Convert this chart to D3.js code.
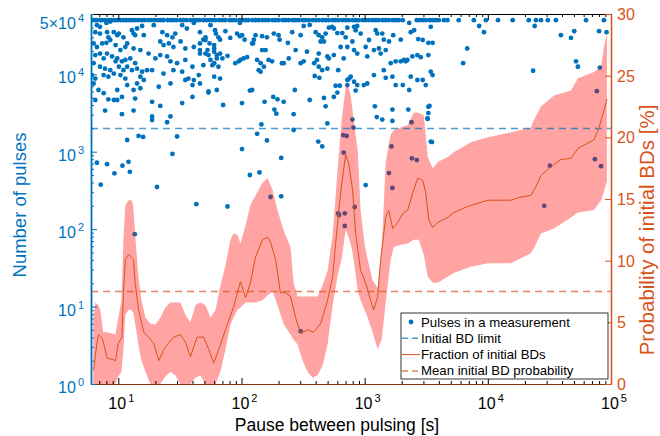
<!DOCTYPE html>
<html lang="en">
<head>
<meta charset="UTF-8">
<title>Pulses vs pause between pulsing</title>
<script src="https://cdn.jsdelivr.net/npm/d3@7"></script>
<style>
    body { margin: 0; background: #fff; font-family: "Liberation Sans", Arial, Helvetica, sans-serif; }
    .tick-lbl { font-size: 16px; }
</style>
</head>
<body>
<svg id="chart" width="660" height="436"></svg>
<script>
// measurements that hit the pulse cap (all drawn at 5x10^4)
var pulseCap = 5e4;
var cappedPause = [6.1,6.4,6.7,7.1,7.4,7.8,8.3,8.8,9.3,9.8,10.4,11.0,11.6,12.3,13.0,13.7,14.5,15.4,16.3,17.5,
    18.5,19.6,20.8,21.9,23.2,25.1,26.5,28.0,29.6,31.9,33.8,35.7,38.5,40.7,43.2,45.6,49.1,52,55,58,61.5,66,70,74,
    80,84,89,96,102,108,114,123,130,138,148,157,166,179,189,200,216,228,242,261,275,292,313,331,351,378,400,424,
    456,482,510,550,581,616,663,701,742,800,845,894,963,1019,1080,1160,1229,1300,1400,1482,1570,1690,1787,1890,
    2040,2650,2800,2970,3134,3380,3570,3780,4000,4400,4700,5800,7700,9640,12100,15900,21500,24600,27000,30700,
    35700,62700,87700];

// other measurements: [pause (s), pulses]
var pulsePoints = [
    [6.7,43000],[7.1,41000],[8.0,46000],[8.6,48000],[14.2,39000],[15.6,42000],[19.4,43000],[22.8,35000],[24.9,32000],
    [27.5,30000],[29,33500],[33,43000],[36,39000],[41,46000],[46,35000],[51,30000],[56,43000],[61,37000],
    [6.5,35000],[7.1,33500],[8.1,35000],[8.3,30000],[9.2,35000],[9.8,32000],[10.1,33500],[11.0,30000],[12.9,37000],
    [13.3,33500],[13.7,32000],[16.1,32000],[21.9,26500],[23.3,23800],[25.7,25000],[28,22500],[32,26500],[35,21500],
    [41,22500],[46,25000],[51,27700],[60,23800],
    [6.3,25000],[6.7,22500],[7.4,25000],[8.0,25500],[8.6,27700],[9.5,23800],[10.4,20500],[11.4,22500],[11.8,25000],
    [13.3,21500],[15.1,20500],[17.6,18500],[20,16000],[21.9,17700],[24.9,17000],[26.5,14700],[30,13900],[35,15300],
    [40,12500],[46,18500],[53,20500],[60,21500],[63,17700],
    [6.5,17700],[7.1,18500],[7.6,16000],[8.1,18500],[8.9,17000],[9.8,16000],[10.7,14700],[11.4,15300],[12.5,16000],
    [13.7,13900],[14.2,11800],[15.6,10800],[17.1,11300],[18.8,11300],[23.3,10200],[28,11300],[33,10800],[37,8800],
    [41,8400],[45,9750],[49,13100],[60,13900],[65,12500],
    [6.3,13900],[7.1,12500],[7.8,11800],[8.6,11300],[9.5,14700],[10.1,12500],[11.0,11300],[11.8,12500],[12.9,11300],
    [15.1,9300],[16.1,8430],
    [6.1,9750],[6.5,8800],[7.6,9750],[8.3,9300],[9.2,10200],[10.4,9750],[11.4,8800],[14.2,7600],[21.3,6900],
    [26.5,7600],[35,8430],[40,7260],[46,7600],[54,6000],[60,9300],
    [6.3,7600],[6.9,6260],[7.6,5700],[9.8,6260],[11.8,7260],[13.3,6260],[15.1,6600],
    [6.5,4650],[8.3,4750],[9.2,4650],[9.8,4650],[10.7,5100],[13.7,4850],[18.8,4400],[21.9,3900],[33,4250],[40,5100],
    [7.8,3400],[10.7,3050],[13.3,3400],[18.8,2850],[18.8,2565],[24.9,2400],[26.5,2850],
    [11.8,1415],[14.6,1600],[15.9,1550],[30,1570],
    [6.7,720],[8.1,690],[7.2,375],[9.3,525],[10.8,660],[12.1,740],[12.4,550],[20.6,350],[27.5,935],[43,210],[13.6,86],
    [49,28000],[55,25000],[62,33500],[65,30000],[67,28000],[74,36000],[81,29500],[92,33500],[97,31000],[101,32000],
    [106,28000],[97,46000],[126,28000],[124,25000],[130,32000],[147,31000],[161,30000],[183,33500],[200,32000],
    [204,28000],[238,25500],[258,35000],[302,32000],[320,42000],[358,43300],[400,35000],[424,32000],[452,30000],
    [482,33500],[512,40000],[545,41000],[562,39000],[600,34000],[658,34000],[701,30000],[723,40000],[820,41000],
    [845,37000],[870,42000],[928,33500],[1019,22500],[1084,27700],[1229,37000],[1265,33500],[1390,33500],
    [1430,28000],[1575,26500],[1705,32000],[1963,28000],[2300,46000],[2367,35000],[2520,37000],[2720,28500],
    [2960,27700],[3442,41000],[3290,25500],[3560,25500],
    [46,20500],[51,18500],[54,17700],[60,19600],[67,18500],[77,17300],[89,13900],[95,14700],[104,16000],[111,16600],
    [122,25000],[134,15300],[147,20500],[157,20500],[166,15300],[177,14700],[213,13900],[242,16000],[275,20500],
    [302,13900],[320,14700],[340,19600],[389,13900],[424,18500],[439,26500],[467,26500],[498,17000],[512,16000],
    [562,17700],[638,22500],[676,16000],[723,22500],[795,26500],[820,20500],[870,18500],[1050,17000],[1190,20500],
    [1305,21500],[1349,18500],[1482,20500],[1627,13900],[1787,14700],[1963,14700],[2085,15300],[2225,15300],
    [2440,17000],[2680,17700],[2854,16600],[3290,17700],
    [56,15300],[58,13100],[63,16000],[70,16000],[98,15300],[143,13900],[138,11300],[143,10800],[152,12500],
    [220,13900],[410,15300],[424,12500],[452,11300],[498,11800],[610,11300],[723,8430],[748,8800],[770,9300],
    [820,8000],[870,7260],[985,7260],[1050,7600],[1190,9750],[1430,11300],[1482,9000],[1680,9300],[1787,7260],
    [2040,7260],[2155,14700],[2300,6260],[2367,9300],[2680,8430],[2960,8430],[3134,7260],[3442,10800],[3560,9750],
    [67,8800],[54,5800],[63,6260],[117,6150],[122,6260],[154,4400],[181,5100],[196,4750],[220,4400],[271,6260],
    [358,4650],[393,9500],[429,9000],[467,4950],[482,3850],[562,5100],[600,5800],[581,7100],[628,7100],[723,7260],
    [845,6150],[1210,3850],[1255,2800],[1390,2600],[1680,3500],[1680,2500],[2260,3500],[2400,2400],[3250,2650],
    [3290,3150],[3360,3900],
    [71,4010],[101,4250],[185,3500],[192,3100],[265,3050],[145,2250],[134,1700],[161,1400],[265,1905],[420,1350],
    [452,1170],[498,2320],[670,1640],[715,1600],[795,2600],[810,2050],[1650,1170],[3442,1350],[101,1080],
    [210,830],[117,500],[140,540],[77,196],[172,260],[210,265],[676,975],[1019,371],[610,160],[620,152],[690,160],
    [690,110],[830,193],[1575,530],[1680,340],[2420,820],[2650,780],[302,4.8],
    [3290,3800],[3230,2700],[3520,1330],[31900,660],[28700,200],[74000,800],[83000,650],
    [8500,42000],[9300,35000],[6800,21500],[6300,13900],[23300,11100],[24000,42000],[39200,32000],[47300,29500],
    [50300,36000],[52000,14700],[53900,12500],[80000,36000],[92000,35000],[76700,6050],[81200,12200]
];

// fraction of initial BDs (%)
var fracPause = [6.3,6.7,6.9,7.4,7.6,8.1,8.9,9.5,10.0,10.7,11.0,11.4,12.1,13.3,13.7,14.6,16.1,17.6,19.4,21.3,23.4,
    25.6,28.2,31.9,35.1,38.5,43.6,49.3,54.2,59.5,67.5,76.5,86,98,108,118,130,148,163,172,189,207,228,250,275,302,
    344,385,439,500,550,581,638,701,741,799,845,927,1018,1119,1183,1276,1349,1482,1568,1690,1854,2075,2239,2456,
    2698,2963,3134,3315,3572,3920,4729,5295,6876,10000,15380,17540,22370,24550,26970,30760,34430,39200,47300,
    53950,72800,80000,87700,92700];
var fracPct = [1.1,3.3,4.0,3.7,3.3,2.1,2.0,1.9,3.3,3.8,7.4,10.1,10.5,10.1,8.2,6.0,4.2,3.8,3.3,1.9,2.8,3.3,3.8,4.0,
    3.4,2.2,3.8,3.8,2.8,1.7,3.2,4.8,6.2,8.3,7.0,8.2,10.3,11.7,11.9,11.5,10.1,7.4,7.4,7.1,5.4,4.1,4.4,4.2,4.9,6.8,
    8.7,11.4,15.5,18.6,17.9,15.7,12.2,9.2,8.2,6.8,6.0,7.1,10.1,13.5,14.1,12.6,13.1,13.9,14.1,15.5,16.7,16.5,15.5,
    13.3,12.7,13.1,13.5,13.9,14.4,14.9,14.9,15.1,15.3,16.0,16.9,17.4,17.8,18.2,18.3,19.1,19.8,20.8,22.2,23.1];

// confidence band around the fraction (%)
var bandPause = [6.26,6.5,6.88,7.14,7.55,8.14,8.94,9.46,10,10.6,11.0,11.4,12.1,12.8,13.2,13.75,14.55,15.4,16.6,18.2,
    20.0,21.9,24.1,26.5,29.0,31.9,35.1,38.5,42.3,46.4,50.9,56.0,61.5,67.5,74.1,81.4,86.1,92.7,98.1,108,118,130,148,
    163,179,196,219,250,265,285,313,344,378,415,456,500,550,603,650,701,728,770,814,877,927,1000,1058,1161,1276,
    1374,1482,1570,1627,1722,1963,2239,2503,2748,3017,3255,3572,3920,4729,5295,7278,10000,15380,22370,23660,
    26980,34430,47300,53950,72800,83000,87700,92700];
var bandHi = [5.2,6.6,6.4,6.0,4.2,4.2,4.1,4.0,5.4,6.8,11.7,14.5,14.9,14.9,14.5,11.9,8.7,6.8,5.4,4.9,4.8,5.4,6.2,6.6,
    6.6,6.6,5.6,5.0,6.4,6.6,6.4,5.4,6.0,8.0,9.6,11.7,12.2,12.1,11.4,12.9,14.5,15.3,16.3,16.7,15.7,14.1,12.5,11.1,
    8.2,7.1,7.1,7.1,7.1,7.1,8.0,9.2,12.1,17.4,21.4,24.0,24.4,23.4,21.4,19.0,14.1,11.3,10.1,8.4,7.8,10.9,17.9,19.5,
    20.2,20.6,20.8,21.0,22.0,22.0,21.8,18.4,17.5,18.0,18.4,18.8,19.6,20.0,20.4,20.8,21.4,22.5,23.4,23.8,24.8,25.3,
    25.7,27.3,28.5];
var bandLo = [0,0,0,0,0,0,0,0,0.6,1.0,2.8,5.6,6.0,6.0,5.8,4.8,3.2,1.9,1.0,0,0,0,0.6,1.0,0.7,0,0,0,0.5,0.7,0,0,0,1.0,
    2.8,4.8,5.4,6.0,6.2,6.6,6.6,6.6,6.8,7.2,7.5,6.4,4.9,4.0,3.6,3.2,1.9,1.0,0.5,0.7,1.5,3.2,6.4,8.8,10.1,12.5,12.1,
    11.4,10.1,7.6,6.8,6.0,5.4,4.2,2.8,3.6,6.6,8.8,10.1,11.1,11.3,11.4,11.7,11.7,10.5,8.7,8.2,8.2,8.7,9.0,9.5,9.8,
    9.8,10.6,11.0,12.2,12.6,13.5,13.9,14.1,14.9,15.6,16.5];

var bdLimit = 2000;      // pulses
var meanProb = 7.5;      // %
var leftTicks = [1, 10, 100, 1000, 10000, 50000];
var rightTicks = [0, 5, 10, 15, 20, 25, 30];
var xMajor = [10, 100, 1000, 10000, 100000];
var legendLabels = ["Pulses in a measurement", "Initial BD limit", "Fraction of initial BDs", "Mean initial BD probability"];

var blue = "#0072BD", orange = "#D95319";

var svg = d3.select("#chart");
var L = 91, R = 611, T = 14, B = 384;

var x = d3.scaleLog().domain([6, 1e5]).range([L, R]);
var yL = d3.scaleLog().domain([1, 6e4]).range([B, T]);
var yR = d3.scaleLinear().domain([0, 30]).range([B, T]);

svg.append("defs").append("clipPath").attr("id", "clip")
    .append("rect").attr("x", L).attr("y", T).attr("width", R - L).attr("height", B - T);

var plot = svg.append("g").attr("clip-path", "url(#clip)");

// scatter
var allPts = cappedPause.map(function (p) { return [p, pulseCap]; }).concat(pulsePoints);
plot.append("g").selectAll("circle").data(allPts).enter().append("circle")
    .attr("cx", function (d) { return x(d[0]); })
    .attr("cy", function (d) { return yL(d[1]); })
    .attr("r", 2.4)
    .attr("fill", blue);

// band
var band = bandPause.map(function (p, i) { return { p: p, lo: bandLo[i], hi: bandHi[i] }; });
plot.append("path").datum(band)
    .attr("d", d3.area().x(function (d) { return x(d.p); })
        .y0(function (d) { return yR(d.lo); }).y1(function (d) { return yR(d.hi); }))
    .attr("fill", "#ff0000").attr("fill-opacity", 0.36);

// BD limit and mean probability
plot.append("line").attr("x1", L).attr("x2", R).attr("y1", yL(bdLimit)).attr("y2", yL(bdLimit))
    .attr("stroke", blue).attr("stroke-opacity", 0.7).attr("stroke-width", 1.5).attr("stroke-dasharray", "7,5");
plot.append("line").attr("x1", L).attr("x2", R).attr("y1", yR(meanProb)).attr("y2", yR(meanProb))
    .attr("stroke", orange).attr("stroke-opacity", 0.7).attr("stroke-width", 1.5).attr("stroke-dasharray", "7,5");

// fraction line
var frac = fracPause.map(function (p, i) { return { p: p, v: fracPct[i] }; });
plot.append("path").datum(frac)
    .attr("d", d3.line().x(function (d) { return x(d.p); }).y(function (d) { return yR(d.v); }))
    .attr("fill", "none").attr("stroke", orange).attr("stroke-width", 1);

// axes: ticks only, labels drawn separately for superscripts
function isMajor(v) { return Math.abs(Math.log10(v) - Math.round(Math.log10(v))) < 1e-9; }

var xb = svg.append("g").attr("transform", "translate(0," + B + ")")
    .call(d3.axisBottom(x).tickValues(x.ticks()).tickFormat("").tickSizeOuter(0).tickSizeInner(-3));
xb.selectAll(".tick line").attr("y2", function (d) { return isMajor(d) ? -6 : -3; });
xb.select(".domain").attr("stroke", "#8a3512");
var xt = svg.append("g").attr("transform", "translate(0," + T + ")")
    .call(d3.axisTop(x).tickValues(x.ticks()).tickFormat("").tickSizeOuter(0).tickSizeInner(-3));
xt.selectAll(".tick line").attr("y2", function (d) { return isMajor(d) ? 6 : 3; });
svg.selectAll(".tick line, .domain").attr("stroke-width", 1);

var yl = svg.append("g").attr("transform", "translate(" + L + ",0)")
    .call(d3.axisLeft(yL).tickValues(yL.ticks().concat([5e4])).tickFormat("").tickSizeOuter(0).tickSizeInner(-3));
yl.selectAll(".tick line").attr("x2", function (d) { return (isMajor(d) || d === 5e4) ? 6 : 3; }).attr("stroke", blue);
yl.select(".domain").attr("stroke", blue).attr("stroke-width", 1.8);

var yr = svg.append("g").attr("transform", "translate(" + R + ",0)")
    .call(d3.axisRight(yR).tickValues(rightTicks).tickFormat("").tickSizeOuter(0).tickSizeInner(-6));
yr.selectAll(".tick line").attr("stroke", orange);
yr.select(".domain").attr("stroke", orange).attr("stroke-width", 1.5);

// tick labels
function powLabel(sel, mant, exp) {
    sel.append("tspan").text(mant + "10");
    sel.append("tspan").attr("dx", 2).attr("dy", -7).attr("font-size", 11).text(exp);
}
xMajor.forEach(function (v) {
    var t = svg.append("text").attr("class", "tick-lbl").attr("x", x(v) + 3).attr("y", 409)
        .attr("text-anchor", "middle").attr("fill", "#000");
    powLabel(t, "", Math.round(Math.log10(v)));
});
leftTicks.forEach(function (v) {
    var t = svg.append("text").attr("class", "tick-lbl").attr("x", 84).attr("y", yL(v) + 9)
        .attr("text-anchor", "end").attr("fill", blue);
    if (v === 5e4) powLabel(t, "5\u00d7", 4);
    else powLabel(t, "", Math.round(Math.log10(v)));
});
rightTicks.forEach(function (v) {
    svg.append("text").attr("class", "tick-lbl").attr("x", 617).attr("y", yR(v) + 6)
        .attr("fill", orange).text(v);
});

// axis titles
svg.append("text").attr("x", 337).attr("y", 431).attr("text-anchor", "middle")
    .attr("font-size", 17.5).attr("fill", "#000").text("Pause between pulsing [s]");
svg.append("text").attr("transform", "translate(26,205) rotate(-90)").attr("text-anchor", "middle")
    .attr("font-size", 18.5).attr("fill", blue).text("Number of pulses");
svg.append("text").attr("transform", "translate(654,230) rotate(-90)").attr("text-anchor", "middle")
    .attr("font-size", 20.5).attr("fill", orange).text("Probability of initial BDs [%]");

// legend
var lg = svg.append("g");
lg.append("rect").attr("x", 401).attr("y", 313).attr("width", 207).attr("height", 66)
    .attr("fill", "#fff").attr("stroke", "#000").attr("stroke-width", 0.8);
legendLabels.forEach(function (s, i) {
    var cy = 322 + i * 16.3;
    lg.append("text").attr("x", 421).attr("y", cy + 4.5).attr("font-size", 13.2).attr("fill", "#000").text(s);
});
lg.append("circle").attr("cx", 411).attr("cy", 322).attr("r", 2.4).attr("fill", blue);
lg.append("line").attr("x1", 402).attr("x2", 420).attr("y1", 338.3).attr("y2", 338.3)
    .attr("stroke", blue).attr("stroke-opacity", 0.7).attr("stroke-width", 1.5).attr("stroke-dasharray", "6,4");
lg.append("line").attr("x1", 402).attr("x2", 420).attr("y1", 354.6).attr("y2", 354.6)
    .attr("stroke", orange).attr("stroke-width", 1);
lg.append("line").attr("x1", 402).attr("x2", 420).attr("y1", 370.9).attr("y2", 370.9)
    .attr("stroke", orange).attr("stroke-opacity", 0.7).attr("stroke-width", 1.5).attr("stroke-dasharray", "6,4");
</script>
</body>
</html>
